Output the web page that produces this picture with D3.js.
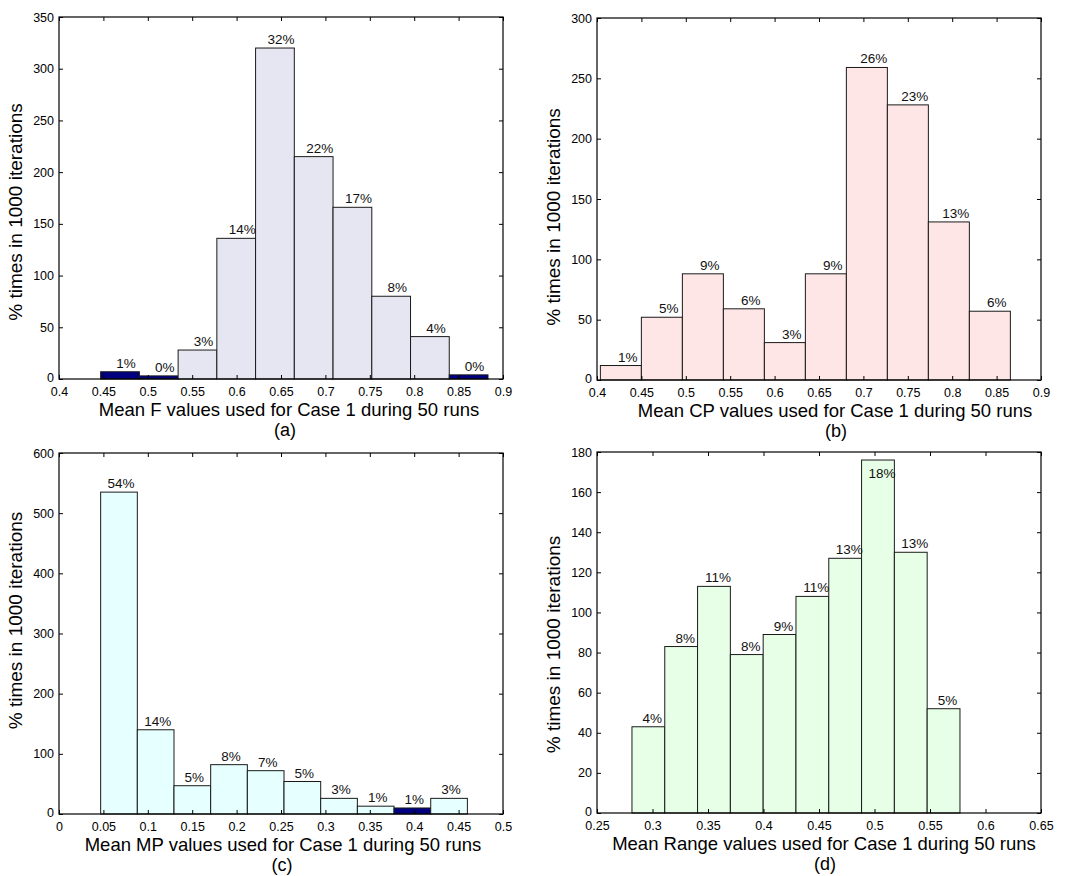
<!DOCTYPE html>
<html>
<head>
<meta charset="utf-8">
<script src="https://cdn.jsdelivr.net/npm/d3@7"></script>
<style>
  body { margin: 0; background: #fff; }
  svg { font-family: "Liberation Sans", Arial, sans-serif; }
</style>
</head>
<body>
<div id="chart"></div>
<script>
// histogram counts (out of 1000 iterations), one array per panel
const fCounts = [7, 3, 28, 136, 320, 215, 166, 80, 41, 4];
const cpCounts = [12, 52, 88, 59, 31, 88, 259, 228, 131, 57];
const mpCounts = [535, 140, 47, 82, 72, 54, 26, 13, 10, 26];
const rangeCounts = [43, 83, 113, 79, 89, 108, 127, 176, 130, 52];

// percentage labels shown above the bars
const fLabels = ["1%", "0%", "3%", "14%", "32%", "22%", "17%", "8%", "4%", "0%"];
const cpLabels = ["1%", "5%", "9%", "6%", "3%", "9%", "26%", "23%", "13%", "6%"];
const mpLabels = ["54%", "14%", "5%", "8%", "7%", "5%", "3%", "1%", "1%", "3%"];
const rangeLabels = ["4%", "8%", "11%", "8%", "9%", "11%", "13%", "18%", "13%", "5%"];

// first and last bin edge of each histogram
const fEdges = [0.4469, 0.8831];
const cpEdges = [0.4038, 0.8655];
const mpEdges = [0.0469, 0.4599];
const rangeEdges = [0.2815, 0.5770];

// axis limits and ticks
const fXTicks = [0.4, 0.45, 0.5, 0.55, 0.6, 0.65, 0.7, 0.75, 0.8, 0.85, 0.9];
const cpXTicks = [0.4, 0.45, 0.5, 0.55, 0.6, 0.65, 0.7, 0.75, 0.8, 0.85, 0.9];
const mpXTicks = [0, 0.05, 0.1, 0.15, 0.2, 0.25, 0.3, 0.35, 0.4, 0.45, 0.5];
const rangeXTicks = [0.25, 0.3, 0.35, 0.4, 0.45, 0.5, 0.55, 0.6, 0.65];
const fYTicks = [0, 50, 100, 150, 200, 250, 300, 350];
const cpYTicks = [0, 50, 100, 150, 200, 250, 300];
const mpYTicks = [0, 100, 200, 300, 400, 500, 600];
const rangeYTicks = [0, 20, 40, 60, 80, 100, 120, 140, 160, 180];

const xTitles = [
    "Mean F values used for Case 1 during 50 runs",
    "Mean CP values used for Case 1 during 50 runs",
    "Mean MP values used for Case 1 during 50 runs",
    "Mean Range values used for Case 1 during 50 runs"
];
const panelNames = ["(a)", "(b)", "(c)", "(d)"];
const yTitle = "% times in 1000 iterations";

const width = 1078;
const height = 876;
const tickLen = 4;

const svg = d3.select('#chart')
    .append('svg')
    .attr('width', width)
    .attr('height', height);

svg.append('rect')
    .attr('width', width)
    .attr('height', height)
    .attr('fill', '#fff');

// layout of each panel (pixel box of the axes) plus styling
const panels = [
    { counts: fCounts, labels: fLabels, edges: fEdges, xTicks: fXTicks, yTicks: fYTicks,
      box: { x0: 59, x1: 503, y0: 17, y1: 379 }, fill: '#e6e6f2',
      labelDx: 6, titleDx: 8, nameDx: 4, yTitleDy: 14 },
    { counts: cpCounts, labels: cpLabels, edges: cpEdges, xTicks: cpXTicks, yTicks: cpYTicks,
      box: { x0: 597, x1: 1041, y0: 18, y1: 380 }, fill: '#ffe6e6',
      labelDx: 7, titleDx: 16, nameDx: 17, yTitleDy: 18 },
    { counts: mpCounts, labels: mpLabels, edges: mpEdges, xTicks: mpXTicks, yTicks: mpYTicks,
      box: { x0: 59, x1: 503, y0: 453, y1: 814 }, fill: '#e6ffff',
      labelDx: 2, titleDx: 2, nameDx: 1, yTitleDy: -13 },
    { counts: rangeCounts, labels: rangeLabels, edges: rangeEdges, xTicks: rangeXTicks, yTicks: rangeYTicks,
      box: { x0: 597, x1: 1041, y0: 452, y1: 813 }, fill: '#e6ffe6',
      labelDx: 4, titleDx: 5, nameDx: 6, yTitleDy: 12 }
];

const fmt = d => String(+d.toFixed(2));

panels.forEach((p, pi) => {
    const b = p.box;
    const xScale = d3.scaleLinear()
        .domain([p.xTicks[0], p.xTicks[p.xTicks.length - 1]])
        .range([b.x0, b.x1]);
    const yScale = d3.scaleLinear()
        .domain([0, p.yTicks[p.yTicks.length - 1]])
        .range([b.y1, b.y0]);

    const n = p.counts.length;
    const binW = (p.edges[1] - p.edges[0]) / n;
    const bins = p.counts.map((v, i) => ({
        x0: p.edges[0] + i * binW,
        x1: p.edges[0] + (i + 1) * binW,
        value: v,
        label: p.labels[i]
    }));

    const g = svg.append('g');

    // bars
    g.selectAll('rect.bar')
        .data(bins)
        .enter()
        .append('rect')
        .attr('class', 'bar')
        .attr('x', d => xScale(d.x0))
        .attr('y', d => yScale(d.value))
        .attr('width', d => xScale(d.x1) - xScale(d.x0))
        .attr('height', d => yScale(0) - yScale(d.value))
        .attr('fill', d => d.value <= 10 ? '#000080' : p.fill)
        .attr('stroke', '#1a1a1a')
        .attr('stroke-width', 1);

    // percentage labels
    g.selectAll('text.pct')
        .data(bins)
        .enter()
        .append('text')
        .attr('class', 'pct')
        .attr('x', d => (xScale(d.x0) + xScale(d.x1)) / 2 + p.labelDx)
        .attr('y', d => {
            const top = yScale(d.value) - 4;
            return top - 10 < b.y0 ? yScale(d.value) + 18 : top;
        })
        .attr('text-anchor', 'middle')
        .attr('font-size', 13.5)
        .attr('fill', '#111')
        .text(d => d.label);

    // axes with inward ticks on all four sides
    const xAxis = d3.axisBottom(xScale).tickValues(p.xTicks).tickFormat(fmt)
        .tickSize(-tickLen).tickPadding(8);
    const yAxis = d3.axisLeft(yScale).tickValues(p.yTicks).tickFormat(d3.format('d'))
        .tickSize(-tickLen).tickPadding(5);

    const gx = g.append('g')
        .attr('transform', `translate(0,${b.y1})`)
        .call(xAxis);
    const gy = g.append('g')
        .attr('transform', `translate(${b.x0},0)`)
        .call(yAxis);
    const gxTop = g.append('g')
        .attr('transform', `translate(0,${b.y0})`)
        .call(d3.axisTop(xScale).tickValues(p.xTicks).tickFormat('').tickSize(-tickLen));
    const gyRight = g.append('g')
        .attr('transform', `translate(${b.x1},0)`)
        .call(d3.axisRight(yScale).tickValues(p.yTicks).tickFormat('').tickSize(-tickLen));

    [gx, gy, gxTop, gyRight].forEach(a => {
        a.select('.domain').remove();
        a.selectAll('line').attr('stroke', '#000');
        a.selectAll('text')
            .attr('font-size', 12.5)
            .attr('fill', '#000')
            .style('font-family', '"Liberation Sans", Arial, sans-serif');
    });
    // keep the "0" of the y axis clear of the first x tick label
    gy.selectAll('.tick text').filter(d => d === 0).attr('dy', '0.2em');

    // axes box
    g.append('rect')
        .attr('x', b.x0)
        .attr('y', b.y0)
        .attr('width', b.x1 - b.x0)
        .attr('height', b.y1 - b.y0)
        .attr('fill', 'none')
        .attr('stroke', '#000')
        .attr('stroke-width', 1.2);

    const cx = (b.x0 + b.x1) / 2;

    // x title and panel name
    g.append('text')
        .attr('x', cx + p.titleDx)
        .attr('y', b.y1 + 37)
        .attr('text-anchor', 'middle')
        .attr('font-size', 18.5)
        .text(xTitles[pi]);

    g.append('text')
        .attr('x', cx + p.nameDx)
        .attr('y', b.y1 + 57)
        .attr('text-anchor', 'middle')
        .attr('font-size', 18)
        .text(panelNames[pi]);

    // y title
    g.append('text')
        .attr('transform', `translate(${b.x0 - 37},${(b.y0 + b.y1) / 2 + p.yTitleDy}) rotate(-90)`)
        .attr('text-anchor', 'middle')
        .attr('font-size', 19)
        .text(yTitle);
});
</script>
</body>
</html>
